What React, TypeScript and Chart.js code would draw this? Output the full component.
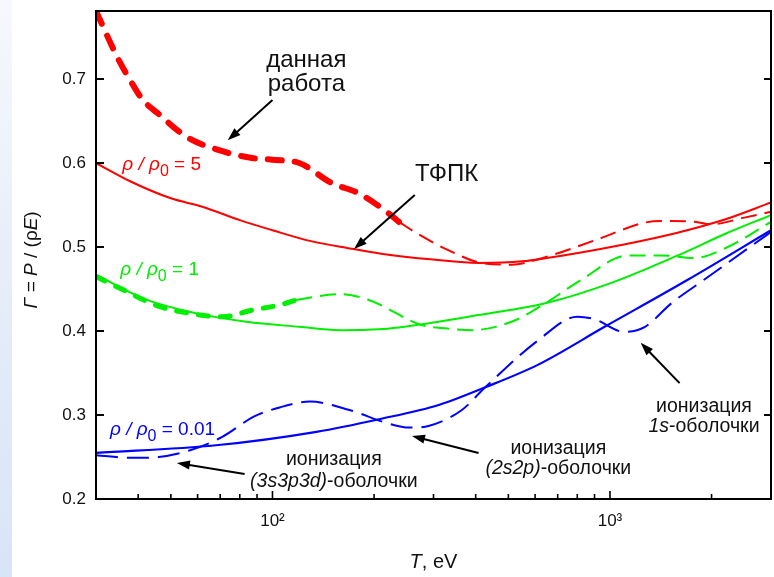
import React, { useEffect, useRef } from 'react';
import { Chart, registerables } from 'chart.js';
Chart.register(...registerables);

const FONT = "'Liberation Sans', Arial, Helvetica, sans-serif";

// ---- data (T in eV, Γ values) ----
const redSolidT = [30, 38, 50, 62, 80, 100, 130, 172, 210, 300, 408, 550, 805, 1100, 1585, 2200, 3000];
const redSolidV = [0.600, 0.578, 0.558, 0.548, 0.532, 0.520, 0.507, 0.498, 0.492, 0.485, 0.481, 0.483, 0.493, 0.503, 0.517, 0.533, 0.553];

const redThickT = [30, 34.7, 38.6, 41.3, 45.5, 55.7, 69.8, 87, 100, 120, 150, 180, 221, 237];
const redThickV = [0.781, 0.726, 0.693, 0.675, 0.660, 0.631, 0.615, 0.606, 0.604, 0.600, 0.576, 0.564, 0.540, 0.530];

const redThinT = [237, 266, 333, 416, 511, 643, 902, 1266, 1414, 1782, 1985, 2500, 3000];
const redThinV = [0.530, 0.517, 0.496, 0.481, 0.479, 0.488, 0.508, 0.529, 0.531, 0.530, 0.527, 0.535, 0.542];

const greenSolidT = [30, 42.5, 59.7, 83.8, 120, 158, 207, 300, 408, 643, 1005, 1589, 2233, 3000];
const greenSolidV = [0.467, 0.437, 0.421, 0.411, 0.405, 0.401, 0.402, 0.410, 0.419, 0.433, 0.457, 0.490, 0.517, 0.538];

const greenThickT = [30, 36.1, 46.4, 57, 71.2, 87.3, 105, 117.7];
const greenThickV = [0.465, 0.449, 0.429, 0.421, 0.417, 0.425, 0.431, 0.437];

const greenThinT = [117.7, 158, 193, 277, 330, 389, 511, 643, 822, 1130, 1414, 1782, 2233, 3000];
const greenThinV = [0.437, 0.444, 0.437, 0.407, 0.403, 0.401, 0.411, 0.433, 0.461, 0.490, 0.490, 0.487, 0.500, 0.530];

const blueSolidT = [30, 68, 135, 207, 311, 427, 613, 964, 1700, 3000];
const blueSolidV = [0.255, 0.264, 0.280, 0.295, 0.312, 0.333, 0.360, 0.405, 0.461, 0.520];

const blueDashT = [30, 38.6, 46, 57, 71, 88, 105, 129, 169, 220, 254, 290, 364, 427, 613, 800, 900, 1100, 1270, 1520, 1900, 3000];
const blueDashV = [0.252, 0.249, 0.250, 0.258, 0.274, 0.298, 0.309, 0.316, 0.306, 0.290, 0.285, 0.287, 0.306, 0.333, 0.389, 0.417, 0.414, 0.399, 0.405, 0.433, 0.461, 0.518];

const yTickValues = [0.2, 0.3, 0.4, 0.5, 0.6, 0.7];
const xMajorTicks = [100, 1000];
const xMinorTicks = [40, 50, 60, 70, 80, 90, 200, 300, 400, 500, 600, 700, 800, 900, 2000];
const xTickLabels: Record<number, string> = { 100: '10²', 1000: '10³' };

// ---- annotations (anchored in data coordinates) ----
type Run = { t: string; i?: boolean; sub?: boolean };
const RED = '#ff0000';
const GREEN = '#00ee00';
const BLUE = '#0000ff';
const INK = '#111111';

const textNotes: { runs: Run[]; T: number; v: number; align: 'left' | 'center'; color: string; size: number }[] = [
  { runs: [{ t: 'ρ', i: true }, { t: ' / ', i: true }, { t: 'ρ', i: true }, { t: '0', sub: true }, { t: ' = 5' }], T: 35.9, v: 0.600, align: 'left', color: RED, size: 19 },
  { runs: [{ t: 'ρ', i: true }, { t: ' / ', i: true }, { t: 'ρ', i: true }, { t: '0', sub: true }, { t: ' = 1' }], T: 35.4, v: 0.475, align: 'left', color: GREEN, size: 19 },
  { runs: [{ t: 'ρ', i: true }, { t: ' / ', i: true }, { t: 'ρ', i: true }, { t: '0', sub: true }, { t: ' = 0.01' }], T: 33.0, v: 0.2845, align: 'left', color: BLUE, size: 19 },
  { runs: [{ t: 'данная' }], T: 126, v: 0.725, align: 'center', color: INK, size: 24 },
  { runs: [{ t: 'работа' }], T: 126, v: 0.696, align: 'center', color: INK, size: 24 },
  { runs: [{ t: 'ТФПК' }], T: 328, v: 0.589, align: 'center', color: INK, size: 24 },
  { runs: [{ t: 'ионизация' }], T: 152, v: 0.2488, align: 'center', color: INK, size: 19.5 },
  { runs: [{ t: '(3s3p3d)', i: true }, { t: '-оболочки' }], T: 152, v: 0.2226, align: 'center', color: INK, size: 19.5 },
  { runs: [{ t: 'ионизация' }], T: 703, v: 0.2619, align: 'center', color: INK, size: 19.5 },
  { runs: [{ t: '(2s2p)', i: true }, { t: '-оболочки' }], T: 703, v: 0.2381, align: 'center', color: INK, size: 19.5 },
  { runs: [{ t: 'ионизация' }], T: 1899, v: 0.312, align: 'center', color: INK, size: 19.5 },
  { runs: [{ t: '1s', i: true }, { t: '-оболочки' }], T: 1899, v: 0.288, align: 'center', color: INK, size: 19.5 },
];

const arrowNotes = [
  { from: [100, 0.675], to: [73.7, 0.627] },
  { from: [264, 0.562], to: [174.4, 0.4976] },
  { from: [82.7, 0.2298], to: [52.1, 0.2429] },
  { from: [408, 0.2548], to: [259, 0.275] },
  { from: [1608, 0.338], to: [1233, 0.386] },
];

const pts = (t: number[], v: number[]) => t.map((x, i) => ({ x, y: v[i] }));

function drawRuns(ctx: CanvasRenderingContext2D, runs: Run[], x: number, yc: number, align: string, size: number, color: string) {
  const fontOf = (r: Run) => `${r.i ? 'italic ' : ''}${r.sub ? Math.round(size * 0.82) : size}px ${FONT}`;
  let total = 0;
  const widths = runs.map((r) => {
    ctx.font = fontOf(r);
    const w = ctx.measureText(r.t).width;
    total += w;
    return w;
  });
  let cx = align === 'center' ? x - total / 2 : align === 'right' ? x - total : x;
  const base = yc + size * 0.36;
  ctx.fillStyle = color;
  ctx.textAlign = 'left';
  ctx.textBaseline = 'alphabetic';
  runs.forEach((r, k) => {
    ctx.font = fontOf(r);
    ctx.fillText(r.t, cx, r.sub ? base + size * 0.3 : base);
    cx += widths[k];
  });
}

function drawArrow(ctx: CanvasRenderingContext2D, x1: number, y1: number, x2: number, y2: number) {
  const ang = Math.atan2(y2 - y1, x2 - x1);
  const hl = 13, hw = 4.5;
  const bx = x2 - hl * Math.cos(ang), by = y2 - hl * Math.sin(ang);
  ctx.strokeStyle = '#000';
  ctx.fillStyle = '#000';
  ctx.lineWidth = 2;
  ctx.beginPath();
  ctx.moveTo(x1, y1);
  ctx.lineTo(bx + 2 * Math.cos(ang), by + 2 * Math.sin(ang));
  ctx.stroke();
  ctx.beginPath();
  ctx.moveTo(x2, y2);
  ctx.lineTo(bx + hw * Math.sin(ang), by - hw * Math.cos(ang));
  ctx.lineTo(bx - hw * Math.sin(ang), by + hw * Math.cos(ang));
  ctx.closePath();
  ctx.fill();
}

const decorPlugin = {
  id: 'decor',
  afterDraw(chart: any) {
    const { ctx, chartArea: a, scales } = chart;
    const xs = scales.x, ys = scales.y;
    ctx.save();
    // frame
    ctx.strokeStyle = '#000';
    ctx.lineWidth = 2;
    ctx.strokeRect(a.left, a.top, a.right - a.left, a.bottom - a.top);
    // y ticks (inward, both sides)
    ctx.lineWidth = 2;
    yTickValues.forEach((v) => {
      const y = ys.getPixelForValue(v);
      ctx.beginPath();
      ctx.moveTo(a.left, y); ctx.lineTo(a.left + 8, y);
      ctx.moveTo(a.right, y); ctx.lineTo(a.right - 7, y);
      ctx.stroke();
    });
    // x ticks (inward)
    ctx.lineWidth = 1.6;
    xMajorTicks.forEach((t) => {
      const x = xs.getPixelForValue(t);
      ctx.beginPath(); ctx.moveTo(x, a.bottom); ctx.lineTo(x, a.bottom - 8); ctx.stroke();
    });
    xMinorTicks.forEach((t) => {
      const x = xs.getPixelForValue(t);
      ctx.beginPath(); ctx.moveTo(x, a.bottom); ctx.lineTo(x, a.bottom - 5); ctx.stroke();
    });
    // axis titles
    drawRuns(ctx, [{ t: 'T', i: true }, { t: ', eV' }], (a.left + a.right) / 2, 561, 'center', 20, INK);
    ctx.save();
    ctx.translate(30, a.top + (a.bottom - a.top) * 0.51);
    ctx.rotate(-Math.PI / 2);
    drawRuns(ctx, [{ t: 'Γ', i: true }, { t: ' = ' }, { t: 'P', i: true }, { t: ' / (ρ' }, { t: 'E', i: true }, { t: ')' }], 0, 0, 'center', 19, INK);
    ctx.restore();
    // text annotations
    textNotes.forEach((n) => {
      drawRuns(ctx, n.runs, xs.getPixelForValue(n.T), ys.getPixelForValue(n.v), n.align, n.size, n.color);
    });
    // arrows
    arrowNotes.forEach((n) => {
      drawArrow(ctx, xs.getPixelForValue(n.from[0]), ys.getPixelForValue(n.from[1]), xs.getPixelForValue(n.to[0]), ys.getPixelForValue(n.to[1]));
    });
    ctx.restore();
  },
};

export default function App() {
  const ref = useRef<HTMLCanvasElement | null>(null);
  useEffect(() => {
    if (!ref.current) return;
    const common = { pointRadius: 0, fill: false, cubicInterpolationMode: 'monotone' as const, borderJoinStyle: 'round' as const };
    const chart = new Chart(ref.current, {
      type: 'line',
      data: {
        datasets: [
          { ...common, data: pts(greenSolidT, greenSolidV), borderColor: GREEN, borderWidth: 2 },
          { ...common, data: pts(greenThinT, greenThinV), borderColor: GREEN, borderWidth: 2, borderDash: [16, 8] },
          { ...common, data: pts(greenThickT, greenThickV), borderColor: GREEN, borderWidth: 5, borderDash: [10, 12], borderCapStyle: 'round' },
          { ...common, data: pts(blueSolidT, blueSolidV), borderColor: BLUE, borderWidth: 2.2 },
          { ...common, data: pts(blueDashT, blueDashV), borderColor: BLUE, borderWidth: 2, borderDash: [22, 9] },
          { ...common, data: pts(redSolidT, redSolidV), borderColor: RED, borderWidth: 2 },
          { ...common, data: pts(redThinT, redThinV), borderColor: RED, borderWidth: 2, borderDash: [16, 8] },
          { ...common, data: pts(redThickT, redThickV), borderColor: RED, borderWidth: 6, borderDash: [14, 13], borderCapStyle: 'round' },
        ] as any,
      },
      options: {
        animation: false,
        responsive: false,
        devicePixelRatio: 1,
        events: [],
        layout: { padding: { top: 11, right: 3, left: 0, bottom: 0 } },
        plugins: { legend: { display: false }, tooltip: { enabled: false } },
        scales: {
          x: {
            type: 'logarithmic',
            min: 30,
            max: 3000,
            grid: { display: false, drawTicks: false },
            border: { display: false },
            afterBuildTicks: (s: any) => { s.ticks = xMajorTicks.map((value) => ({ value })); },
            afterFit: (s: any) => { s.height = 78; s.paddingLeft = 0; s.paddingRight = 0; },
            ticks: {
              autoSkip: false,
              maxRotation: 0,
              padding: 12,
              color: INK,
              font: { family: FONT, size: 17 },
              callback: (v: any) => xTickLabels[Number(v)] ?? '',
            },
          },
          y: {
            type: 'linear',
            min: 0.2,
            max: 0.781,
            grid: { display: false, drawTicks: false },
            border: { display: false },
            afterBuildTicks: (s: any) => { s.ticks = yTickValues.map((value) => ({ value })); },
            afterFit: (s: any) => { s.width = 96; s.paddingTop = 0; s.paddingBottom = 0; },
            ticks: {
              padding: 10,
              color: INK,
              font: { family: FONT, size: 17 },
              callback: (v: any) => Number(v).toFixed(1),
            },
          },
        },
      } as any,
      plugins: [decorPlugin],
    });
    return () => chart.destroy();
  }, []);

  return (
    <div style={{ position: 'fixed', left: 0, top: 0, width: 774, height: 577, background: '#ffffff' }}>
      <div style={{ position: 'absolute', left: 0, top: 0, width: 12, height: 577, background: 'linear-gradient(to bottom, #f6f8fd 0%, #e6edf9 50%, #d8e4f7 100%)' }} />
      <canvas ref={ref} width={774} height={577} style={{ position: 'absolute', left: 0, top: 0, width: 774, height: 577 }} />
    </div>
  );
}
